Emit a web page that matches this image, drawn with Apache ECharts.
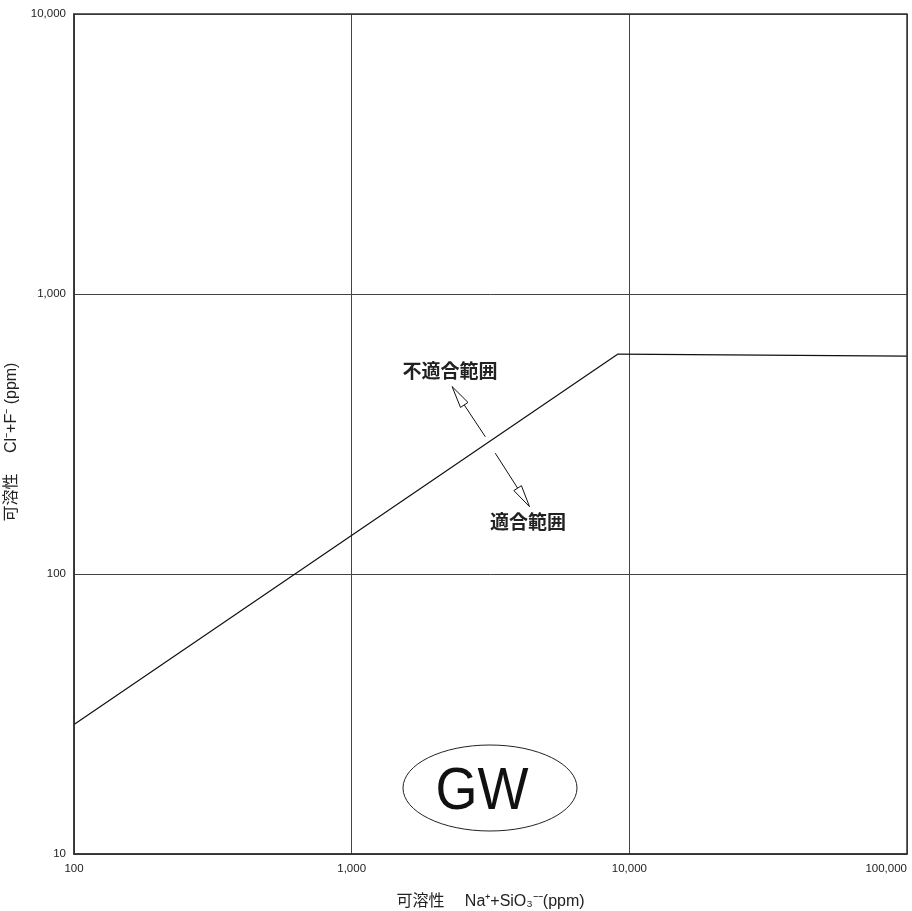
<!DOCTYPE html>
<html>
<head>
<meta charset="utf-8">
<script src="https://cdn.jsdelivr.net/npm/echarts@6/dist/echarts.min.js"></script>
<style>
  html,body{margin:0;padding:0;background:#fff;}
  #main{width:912px;height:911px;}
</style>
</head>
<body>
<div id="main"></div>
<script>
// boundary line: soluble Na+SiO3 vs Cl+F (ppm)
var lineX = [100, 9100, 100000];
var lineY = [29, 610, 600];

// arrows [fromX, fromY, toX, toY]
var arrowUnfit = [3030, 309, 2300, 467];
var arrowFit = [3290, 270, 4370, 174];

var chart = echarts.init(document.getElementById('main'));

function fmt(v){
  return String(Math.round(v)).replace(/\B(?=(\d{3})+(?!\d))/g, ',');
}

var tickFont = {fontFamily:'Liberation Sans Narrow, Liberation Sans, Arial', fontSize:11.5, color:'#222'};
var nameFont = {fontFamily:'Liberation Sans, Noto Sans CJK JP', fontSize:16, color:'#222'};

function renderArrow(params, api){
  var p0 = api.coord([api.value(0), api.value(1)]);
  var p1 = api.coord([api.value(2), api.value(3)]);
  var dx = p1[0]-p0[0], dy = p1[1]-p0[1];
  var len = Math.sqrt(dx*dx+dy*dy);
  var ux = dx/len, uy = dy/len;
  var hl = 22, hw = 4.5;
  var bx = p1[0]-ux*hl, by = p1[1]-uy*hl;
  return {
    type:'group',
    children:[
      {type:'line', shape:{x1:p0[0], y1:p0[1], x2:bx, y2:by}, style:{stroke:'#111', lineWidth:1}},
      {type:'polygon', shape:{points:[[p1[0],p1[1]],[bx-uy*hw,by+ux*hw],[bx+uy*hw,by-ux*hw]]},
        style:{fill:'#fff', stroke:'#111', lineWidth:1}}
    ]
  };
}

var option = {
  backgroundColor:'#fff',
  animation:false,
  grid:{left:74, right:5, top:14, bottom:57, containLabel:false, outerBoundsMode:'none'},
  xAxis:{
    type:'log', logBase:10, min:100, max:100000,
    name:'可溶性　 Na⁺+SiO₃⁻⁻(ppm)', nameLocation:'middle', nameGap:40,
    nameTextStyle:nameFont,
    axisLine:{show:true, lineStyle:{color:'#333', width:1.5}},
    axisTick:{show:false},
    axisLabel:Object.assign({margin:9, formatter:fmt, alignMaxLabel:'right'}, tickFont),
    splitLine:{show:true, lineStyle:{color:'#444', width:1}}
  },
  yAxis:{
    type:'log', logBase:10, min:10, max:10000,
    name:'可溶性　 Cl⁻+F⁻ (ppm)', nameLocation:'middle', nameGap:47,
    nameTextStyle:Object.assign({padding:[0,16,0,0]}, nameFont),
    axisLine:{show:true, lineStyle:{color:'#333', width:1.5}},
    axisTick:{show:false},
    axisLabel:Object.assign({margin:8, formatter:fmt}, tickFont),
    splitLine:{show:true, lineStyle:{color:'#444', width:1}}
  },
  graphic:[
    {type:'rect', shape:{x:74, y:14, width:833, height:840}, style:{fill:'none', stroke:'#333', lineWidth:1.5}, silent:true, z:10},
    {type:'ellipse', shape:{cx:490, cy:788, rx:87, ry:43}, style:{fill:'#fff', stroke:'#222', lineWidth:1}, z:5},
    {type:'text', x:482, y:792, scaleX:0.9, style:{text:'GW', fill:'#111', font:'60px Liberation Sans, Arial', align:'center', verticalAlign:'middle'}, z:6},
    {type:'text', x:450, y:371, style:{text:'不適合範囲', fill:'#222', font:'bold 19px Noto Sans CJK JP', align:'center', verticalAlign:'middle'}, z:6},
    {type:'text', x:528, y:522, style:{text:'適合範囲', fill:'#222', font:'bold 19px Noto Sans CJK JP', align:'center', verticalAlign:'middle'}, z:6}
  ],
  series:[
    {
      type:'line',
      data:lineX.map(function(x,i){return [x, lineY[i]];}),
      symbol:'none',
      lineStyle:{color:'#111', width:1.2},
      z:3
    },
    {
      type:'custom',
      renderItem:renderArrow,
      data:[arrowUnfit, arrowFit],
      z:4
    }
  ]
};
chart.setOption(option);
</script>
</body>
</html>
